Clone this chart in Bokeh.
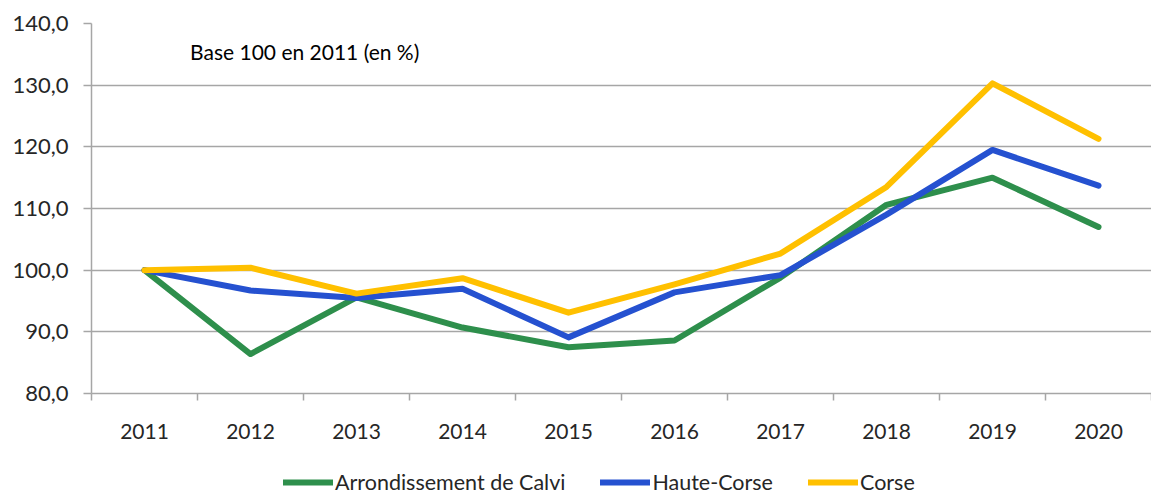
from bokeh.plotting import figure
from bokeh.layouts import column
from bokeh.models import FixedTicker, Legend, LegendItem, Label, Range1d, ColumnDataSource
from bokeh.embed import file_html
from bokeh.resources import INLINE

# ---- data ----
years = [2011, 2012, 2013, 2014, 2015, 2016, 2017, 2018, 2019, 2020]
calvi = [100.0, 86.4, 95.6, 90.7, 87.5, 88.6, 98.8, 110.6, 115.0, 107.0]
haute_corse = [100.0, 96.7, 95.5, 97.0, 89.1, 96.4, 99.2, 109.0, 119.5, 113.7]
corse = [100.0, 100.4, 96.2, 98.7, 93.1, 97.7, 102.7, 113.5, 130.3, 121.3]
series_names = ["Arrondissement de Calvi", "Haute-Corse", "Corse"]
series_colors = ["#2E8F4C", "#2551D0", "#FFC000"]
y_ticks = [80, 90, 100, 110, 120, 130, 140]
y_labels = [f"{t},0" for t in y_ticks]
note = "Base 100 en 2011 (en %)"

FONT = "Lato"
GRID = "#A6A6A6"

p = figure(width=1151, height=450, output_backend="svg", toolbar_location=None,
           x_range=Range1d(years[0] - 0.5, years[-1] + 0.5),
           y_range=Range1d(y_ticks[0], y_ticks[-1]),
           min_border_left=91, min_border_right=0, min_border_top=23,
           min_border_bottom=57)
p.outline_line_color = None
p.background_fill_color = "white"
p.border_fill_color = "white"

# x axis
xa = p.xaxis[0]
xa.ticker = FixedTicker(ticks=years,
                        minor_ticks=[y - 0.5 for y in years] + [years[-1] + 0.5])
xa.major_label_overrides = {y: str(y) for y in years}
xa.major_tick_out = 0
xa.major_tick_in = 0
xa.minor_tick_out = 7
xa.minor_tick_in = 0
xa.minor_tick_line_color = GRID
xa.minor_tick_line_width = 1.5
xa.axis_line_color = GRID
xa.axis_line_width = 1.5
xa.major_label_text_font = FONT
xa.major_label_text_font_size = "21px"
xa.major_label_text_color = "#262626"
xa.major_label_standoff = 23

# y axis
ya = p.yaxis[0]
ya.ticker = FixedTicker(ticks=y_ticks)
ya.major_label_overrides = dict(zip(y_ticks, y_labels))
ya.major_tick_out = 8
ya.major_tick_in = 0
ya.major_tick_line_color = GRID
ya.major_tick_line_width = 1.5
ya.minor_tick_line_color = None
ya.axis_line_color = GRID
ya.axis_line_width = 1.5
ya.major_label_text_font = FONT
ya.major_label_text_font_size = "22px"
ya.major_label_text_color = "#262626"
ya.major_label_standoff = 15

p.xgrid.visible = False
p.ygrid.grid_line_color = GRID
p.ygrid.grid_line_width = 1.5

all_series = [calvi, haute_corse, corse]
for vals, col in zip(all_series, series_colors):
    src = ColumnDataSource(dict(x=years, y=vals))
    p.line("x", "y", source=src, line_color=col, line_width=6,
           line_cap="round", line_join="round")

p.add_layout(Label(x=2011.43, y=135.5, text=note, text_font=FONT,
                   text_font_size="21px", text_baseline="middle",
                   text_align="left", text_color="black"))

# ---- legend strip (separate small figure; its lines lie outside its ranges) ----
lg = figure(width=1151, height=45, output_backend="svg", toolbar_location=None,
            x_range=Range1d(0, 1), y_range=Range1d(0, 1),
            x_axis_location=None, y_axis_location=None,
            min_border_left=0, min_border_right=0, min_border_top=0,
            min_border_bottom=0)
lg.outline_line_color = None
lg.xgrid.visible = False
lg.ygrid.visible = False
items = []
for name, vals, col in zip(series_names, all_series, series_colors):
    r = lg.line(x=years, y=vals, line_color=col, line_width=6, line_cap="round")
    items.append(LegendItem(label=name, renderers=[r]))

legend = Legend(items=items, orientation="horizontal", location=(192, 0),
                glyph_width=50, glyph_height=20, label_standoff=2, spacing=35,
                padding=0, margin=0, border_line_color=None,
                background_fill_alpha=0,
                label_text_font=FONT, label_text_font_size="21.5px",
                label_text_color="#262626")
lg.add_layout(legend)

layout = column(p, lg, spacing=0)
open("out.html", "w").write(file_html(layout, INLINE))
